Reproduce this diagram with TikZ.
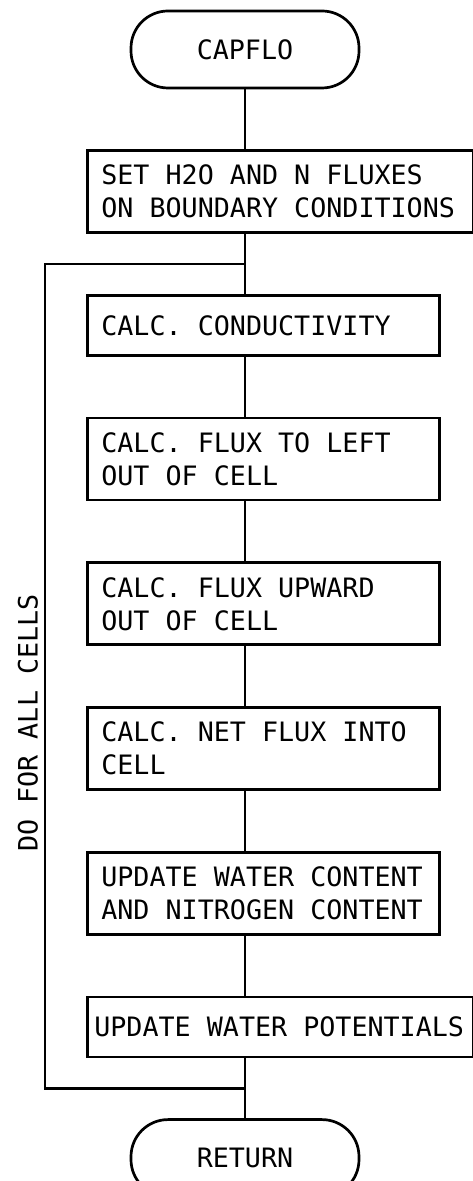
\documentclass[tikz,border=0pt]{standalone}
\usepackage{fontspec}
\newfontfamily\flowfont{DejaVu Sans Mono}[WordSpace={1,0,0}]
\usetikzlibrary{positioning,calc}

\tikzset{
  flowline/.style={line width=2.7pt, black},
  flowtext/.style={font=\flowfont\fontsize{26.7}{33}\selectfont\frenchspacing},
  termbox/.style={draw, flowline, flowtext, rectangle, rounded corners=37pt, minimum width=228pt, minimum height=77pt, inner sep=0pt},
  stepbox/.style={draw, flowline, flowtext, rectangle, inner xsep=14pt, inner ysep=0pt, text width=324pt, minimum height=82pt, align=flush left},
  widebox/.style={stepbox, text width=358pt},
  widestbox/.style={stepbox, inner xsep=7pt, text width=372pt},
  onestep/.style={minimum height=60pt}
}

\begin{document}
\begin{tikzpicture}[x=1pt, y=1pt, node distance=60pt]
    \useasboundingbox (0,0) rectangle (473,1181);

    % Nodes
    \node [termbox] (capflo) at (245,1131.5) {CAPFLO};
    \node [widebox, anchor=north west] (setflux) at ([xshift=-159pt, yshift=-60pt]capflo.south) {SET H2O AND N FLUXES\\ON BOUNDARY CONDITIONS};
    \node [stepbox, onestep, below=of setflux.south west, anchor=north west] (cond) {CALC. CONDUCTIVITY};
    \node [stepbox, below=of cond.south west, anchor=north west] (fluxleft) {CALC. FLUX TO LEFT\\OUT OF CELL};
    \node [stepbox, below=of fluxleft.south west, anchor=north west] (fluxup) {CALC. FLUX UPWARD\\OUT OF CELL};
    \node [stepbox, below=of fluxup.south west, anchor=north west] (netflux) {CALC. NET FLUX INTO\\CELL};
    \node [stepbox, below=of netflux.south west, anchor=north west] (update) {UPDATE WATER CONTENT\\AND NITROGEN CONTENT};
    \node [widestbox, onestep, below=of update.south west, anchor=north west] (potential) {UPDATE WATER POTENTIALS};
    \node [termbox, anchor=north] (ret) at ([yshift=-60pt]potential.south -| capflo) {RETURN};
    \node [flowtext, rotate=90] (doall) at (28,458) {DO FOR ALL CELLS};

    % Paths
    \draw [flowline] (capflo) -- (capflo |- setflux.north);
    \draw [flowline] (setflux.south -| capflo) -- coordinate (loopin) (cond.north -| capflo);
    \draw [flowline] (cond.south -| capflo) -- (fluxleft.north -| capflo);
    \draw [flowline] (fluxleft.south -| capflo) -- (fluxup.north -| capflo);
    \draw [flowline] (fluxup.south -| capflo) -- (netflux.north -| capflo);
    \draw [flowline] (netflux.south -| capflo) -- (update.north -| capflo);
    \draw [flowline] (update.south -| capflo) -- (potential.north -| capflo);
    \draw [flowline] (potential.south -| capflo) -- coordinate (loopout) (ret);
    \draw [flowline] (loopin) -- ++(-200,0) |- (loopout);
  \end{tikzpicture}
\end{document}
